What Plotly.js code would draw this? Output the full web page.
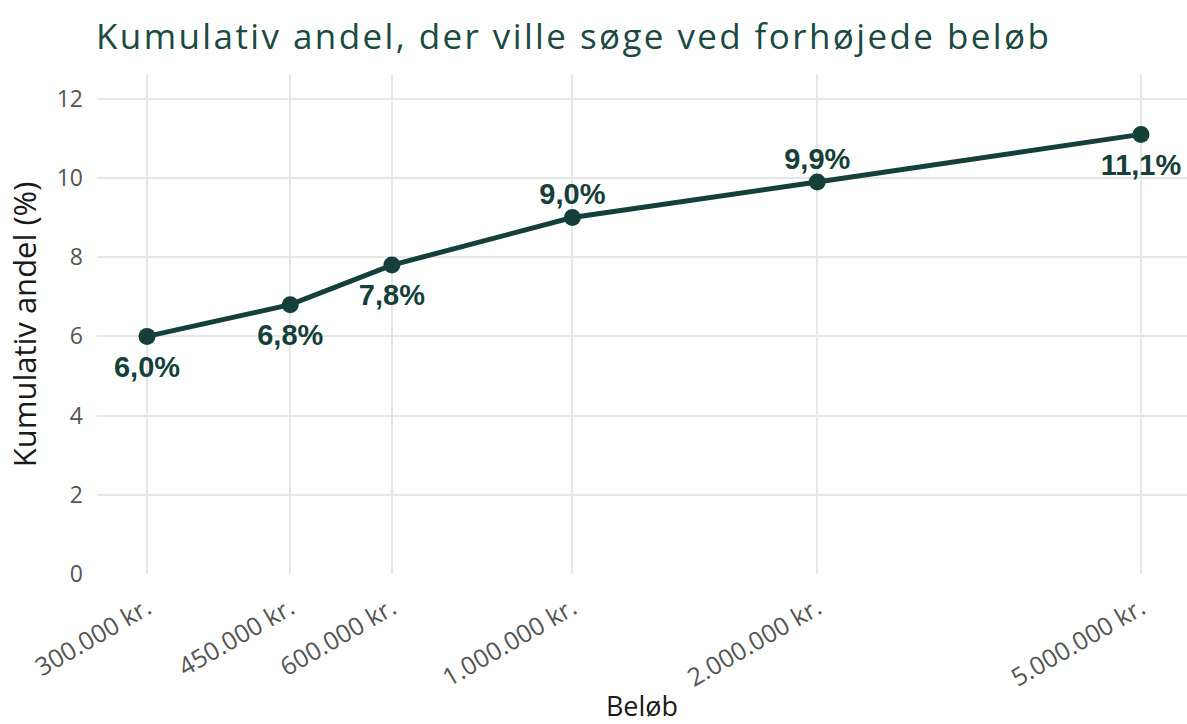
<!DOCTYPE html>
<html>
<head>
<meta charset="utf-8">
<script src="https://cdn.plot.ly/plotly-3.0.1.min.js"></script>
<style>
html,body{margin:0;padding:0;background:#fff;}
#chart{width:1187px;height:724px;}
#chart .gtitle{letter-spacing:2.4px;}
</style>
</head>
<body>
<div id="chart"></div>
<script>
const amounts = [300000, 450000, 600000, 1000000, 2000000, 5000000];
const tickLabels = ["300.000 kr.", "450.000 kr.", "600.000 kr.", "1.000.000 kr.", "2.000.000 kr.", "5.000.000 kr."];
const shares = [6.0, 6.8, 7.8, 9.0, 9.9, 11.1];
const pointLabels = ["6,0%", "6,8%", "7,8%", "9,0%", "9,9%", "11,1%"];
const labelPositions = ["bottom center", "bottom center", "bottom center", "top center", "top center", "bottom center"];

const green = "#15403a";
const font = "'Open Sans', Lato, sans-serif";

const lineTrace = {
  x: amounts,
  y: shares,
  type: "scatter",
  mode: "lines+markers",
  line: {color: green, width: 5},
  marker: {color: green, size: 17, line: {width: 0}},
  cliponaxis: false,
  hoverinfo: "x+y"
};

// invisible helper markers only set the distance of the value labels from the points
const labelTrace = {
  x: amounts,
  y: shares,
  type: "scatter",
  mode: "markers+text",
  marker: {
    color: "rgba(0,0,0,0)",
    opacity: 0,
    line: {width: 0, color: "rgba(0,0,0,0)"},
    size: labelPositions.map(p => p.startsWith("bottom") ? 28 : 8)
  },
  text: pointLabels,
  textposition: labelPositions,
  textfont: {family: "'Liberation Sans', Arial, sans-serif", size: 29, color: green, weight: "bold"},
  cliponaxis: false,
  hoverinfo: "skip"
};

const layout = {
  width: 1187,
  height: 724,
  margin: {l: 97, r: 0, t: 75, b: 150},
  paper_bgcolor: "#fff",
  plot_bgcolor: "#fff",
  showlegend: false,
  font: {family: font, color: "#555"},
  title: {
    text: "Kumulativ andel, der ville søge ved forhøjede beløb",
    font: {family: font, size: 35, color: "#1a4a42"},
    x: 96 / 1187, xref: "container", xanchor: "left",
    y: 1 - 37 / 724, yref: "container", yanchor: "middle"
  },
  xaxis: {
    type: "log",
    range: [Math.log10(300000) - 50 / 813.4, Math.log10(5000000) + 46 / 813.4],
    tickvals: amounts,
    ticktext: tickLabels,
    tickangle: -30,
    tickfont: {family: font, size: 25, color: "#555"},
    showgrid: true,
    gridcolor: "#e6e6e6",
    gridwidth: 2,
    zeroline: false,
    showline: false,
    ticks: "",
    ticklabelstandoff: 14,
    automargin: false,
    title: {text: "Beløb", font: {family: font, size: 27, color: "#1a1a1a"}, standoff: 10}
  },
  yaxis: {
    range: [0, 12.6],
    tickvals: [0, 2, 4, 6, 8, 10, 12],
    tickfont: {family: font, size: 23, color: "#555"},
    showgrid: true,
    gridcolor: "#e6e6e6",
    gridwidth: 2,
    zeroline: false,
    showline: false,
    ticks: "",
    ticklabelstandoff: 13,
    automargin: false,
    title: {text: "Kumulativ andel (%)", font: {family: font, size: 31, color: "#1a1a1a"}, standoff: 10}
  }
};

Plotly.newPlot("chart", [lineTrace, labelTrace], layout, {displayModeBar: false, responsive: false});
</script>
</body>
</html>
